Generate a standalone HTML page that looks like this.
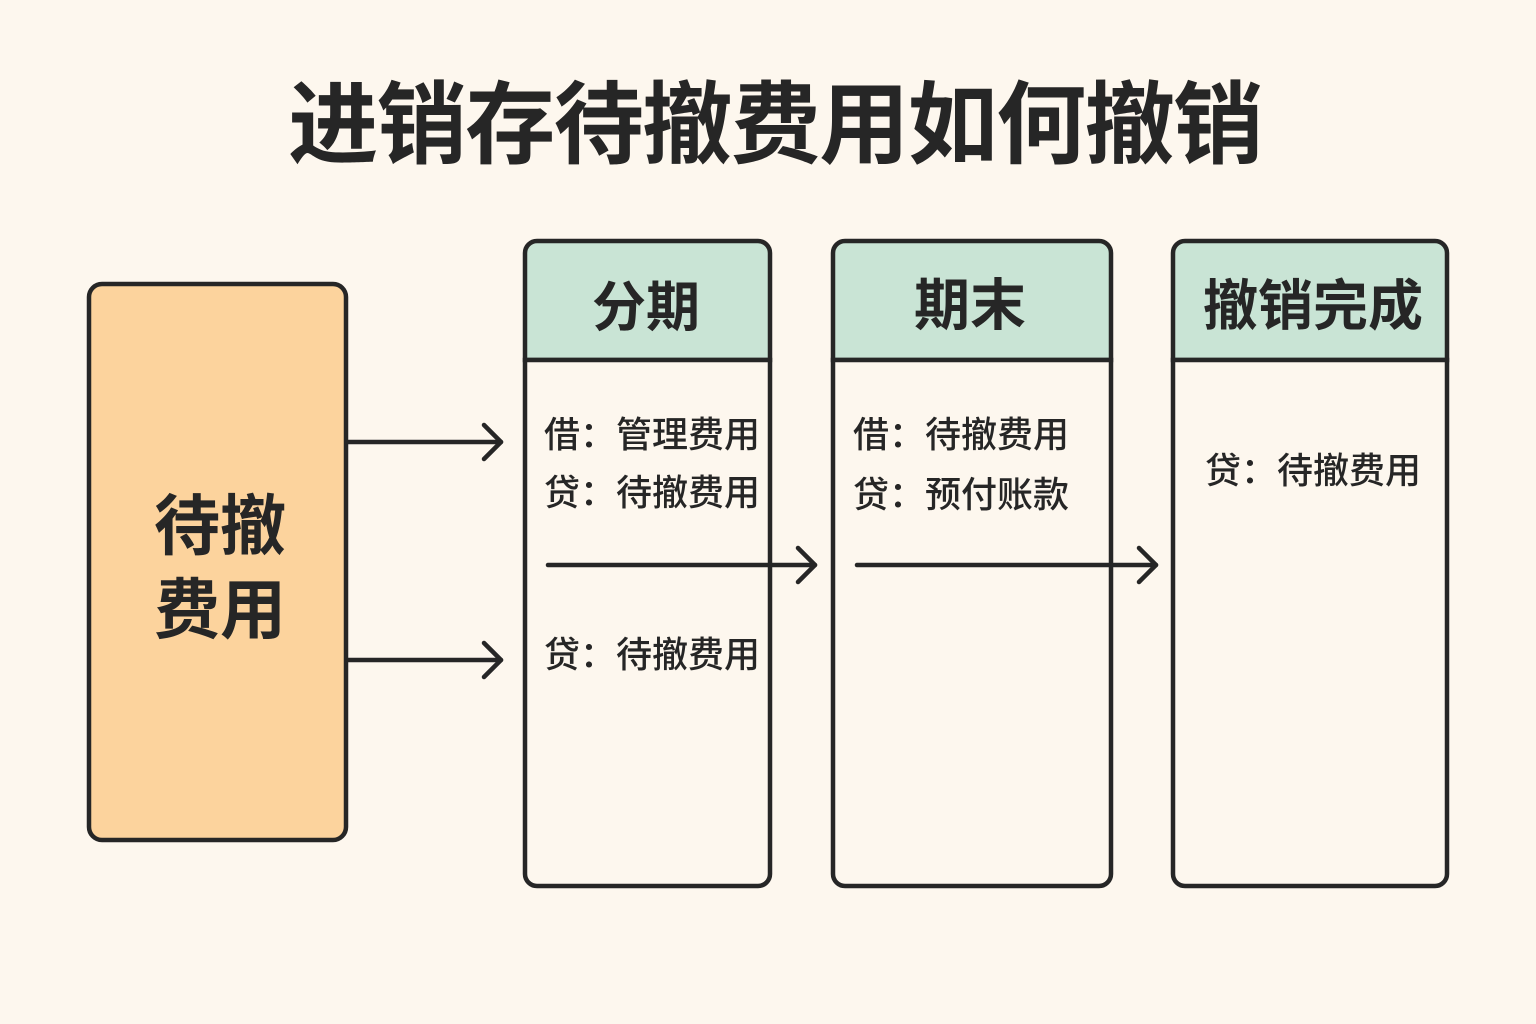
<!DOCTYPE html>
<html><head><meta charset="utf-8"><style>
html,body{margin:0;padding:0;background:#fdf7ee;}
svg{display:block;}
text{font-family:"Liberation Sans","Noto Sans CJK SC",sans-serif;fill:#262626;}
</style></head><body>
<svg width="1536" height="1024" viewBox="0 0 1536 1024" xmlns="http://www.w3.org/2000/svg">
<rect width="1536" height="1024" fill="#fdf7ee"/>
<text x="775" y="156" text-anchor="middle" font-size="90" font-weight="700" letter-spacing="-1.5">进销存待撤费用如何撤销</text>

<!-- left box -->
<rect x="89" y="284" width="257" height="556" rx="13" fill="#fcd39d" stroke="#262626" stroke-width="4.5"/>
<text x="220" y="549" text-anchor="middle" font-size="66" font-weight="700">待撤</text>
<text x="220" y="633" text-anchor="middle" font-size="66" font-weight="700">费用</text>

<!-- columns -->
<g stroke="#262626" stroke-width="4.5">
  <path d="M525 360 V253 a12 12 0 0 1 12 -12 H758 a12 12 0 0 1 12 12 V360 Z" fill="#c9e4d5"/>
  <path d="M525 360 V874 a12 12 0 0 0 12 12 H758 a12 12 0 0 0 12 -12 V360 Z" fill="#fdf7ee"/>
  <path d="M833 360 V253 a12 12 0 0 1 12 -12 H1099 a12 12 0 0 1 12 12 V360 Z" fill="#c9e4d5"/>
  <path d="M833 360 V874 a12 12 0 0 0 12 12 H1099 a12 12 0 0 0 12 -12 V360 Z" fill="#fdf7ee"/>
  <path d="M1173 360 V253 a12 12 0 0 1 12 -12 H1435 a12 12 0 0 1 12 12 V360 Z" fill="#c9e4d5"/>
  <path d="M1173 360 V874 a12 12 0 0 0 12 12 H1435 a12 12 0 0 0 12 -12 V360 Z" fill="#fdf7ee"/>
</g>

<text x="646" y="326" text-anchor="middle" font-size="54" font-weight="700">分期</text>
<text x="970" y="325" text-anchor="middle" font-size="56" font-weight="700">期末</text>
<text x="1313" y="325" text-anchor="middle" font-size="55" font-weight="700">撤销完成</text>

<g font-size="36" font-weight="500">
  <text x="544" y="447">借：管理费用</text>
  <text x="544" y="505">贷：待撤费用</text>
  <text x="544" y="667">贷：待撤费用</text>
  <text x="853" y="447">借：待撤费用</text>
  <text x="853" y="507">贷：预付账款</text>
  <text x="1205" y="483">贷：待撤费用</text>
</g>

<!-- arrows -->
<g stroke="#262626" stroke-width="4.5" fill="none" stroke-linecap="round" stroke-linejoin="round">
  <path d="M348 442 H501"/><path d="M484 425 L501 442 L484 459"/>
  <path d="M348 660 H501"/><path d="M484 643 L501 660 L484 677"/>
  <path d="M548 565 H815"/><path d="M798 548 L815 565 L798 582"/>
  <path d="M857 565 H1156"/><path d="M1139 548 L1156 565 L1139 582"/>
</g>
</svg>
</body></html>
